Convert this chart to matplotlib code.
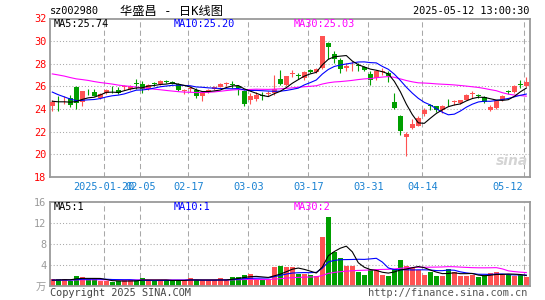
import numpy as np
import pandas as pd
import matplotlib
matplotlib.use('Agg')
import matplotlib.pyplot as plt
from matplotlib.transforms import blended_transform_factory

plt.rcParams['font.family'] = ['DejaVu Sans Mono', 'Noto Sans CJK SC']

# daily candles 2025-01-07 .. 2025-05-12 (sz002980)
opens = [24.24, 24.90, 24.85, 24.95, 25.90, 24.60, 25.58, 25.53, 24.97, 25.41,
         25.68, 25.65, 25.92, 25.76, 26.22, 26.24, 25.76, 26.26, 26.24, 26.50,
         26.41, 26.24, 25.60, 25.74, 25.70, 25.12, 25.47, 25.76, 25.94, 26.18,
         26.18, 26.00, 25.56, 24.76, 24.88, 25.22, 25.32, 25.41, 26.65, 26.15,
         27.08, 27.00, 26.70, 27.44, 27.24, 27.62, 29.79, 28.88, 28.35, 27.62,
         27.94, 27.85, 27.68, 27.12, 26.74, 27.28, 27.18, 24.59, 23.41, 21.53,
         22.32, 22.53, 23.59, 24.32, 24.24, 23.88, 24.62, 24.60, 24.53, 24.82,
         25.30, 25.20, 25.06, 23.90, 24.09, 24.76, 25.52, 25.47, 26.18, 26.06]
highs = [24.76, 25.10, 25.10, 25.20, 26.05, 25.60, 25.80, 25.76, 25.40, 25.80,
         26.00, 25.95, 26.10, 26.10, 26.65, 26.44, 26.20, 26.40, 26.59, 26.56,
         26.47, 26.30, 25.76, 26.00, 25.85, 25.50, 25.80, 26.00, 26.25, 26.35,
         26.44, 26.15, 25.70, 25.41, 25.47, 25.47, 25.56, 27.03, 27.47, 26.90,
         27.47, 27.18, 27.35, 27.50, 27.65, 30.45, 29.88, 29.10, 28.50, 28.06,
         28.20, 28.06, 27.80, 27.32, 27.44, 27.60, 27.32, 25.41, 23.50, 22.00,
         23.10, 23.41, 24.09, 24.47, 24.30, 24.38, 24.88, 24.76, 24.82, 25.30,
         25.56, 25.35, 25.12, 24.38, 24.76, 25.26, 25.70, 26.10, 26.59, 26.82]
lows = [23.85, 23.80, 24.40, 24.18, 23.95, 24.30, 25.26, 25.12, 24.90, 25.35,
        25.40, 25.35, 25.70, 25.70, 25.76, 25.41, 25.70, 26.00, 26.15, 26.30,
        26.20, 25.56, 25.35, 25.47, 24.97, 24.68, 25.40, 25.70, 25.90, 26.05,
        25.85, 25.26, 24.30, 24.47, 24.68, 24.76, 25.10, 25.26, 26.15, 26.00,
        26.80, 26.65, 26.60, 27.18, 27.18, 27.50, 28.41, 28.06, 27.18, 27.32,
        27.32, 27.32, 27.35, 26.15, 26.60, 27.03, 26.35, 24.00, 21.65, 19.82,
        22.24, 22.47, 23.41, 23.94, 23.70, 23.65, 24.24, 24.38, 24.47, 24.76,
        24.97, 24.97, 24.50, 23.79, 24.03, 24.70, 25.35, 25.40, 25.85, 25.94]
closes = [24.59, 24.85, 24.90, 24.35, 24.55, 25.56, 25.54, 25.18, 25.35, 25.70,
          25.64, 25.41, 25.96, 26.06, 26.18, 25.76, 26.15, 26.22, 26.50, 26.35,
          26.24, 25.65, 25.65, 25.78, 25.12, 25.47, 25.65, 25.94, 26.18, 26.22,
          26.15, 25.85, 24.47, 25.18, 25.26, 25.18, 25.35, 25.76, 26.24, 26.88,
          27.12, 26.95, 27.30, 27.24, 27.56, 30.41, 29.44, 28.41, 27.53, 27.82,
          27.97, 27.82, 27.41, 26.59, 27.32, 27.32, 26.88, 24.09, 22.03, 21.82,
          22.68, 23.20, 23.88, 24.28, 23.94, 24.29, 24.58, 24.64, 24.76, 25.26,
          25.34, 25.16, 24.59, 24.15, 24.68, 25.18, 25.48, 26.06, 26.14, 26.35]
volume = [1.2, 1.2, 1.2, 0.95, 1.9, 1.7, 1.2, 1.2, 0.9, 0.9,
          0.63, 0.95, 1.0, 1.0, 1.0, 1.46, 1.0, 1.0, 1.0, 1.0,
          1.0, 1.0, 1.0, 1.46, 1.0, 1.0, 1.0, 1.0, 1.46, 1.0,
          1.7, 1.7, 2.0, 2.2, 1.27, 1.2, 1.2, 3.55, 3.75, 3.6,
          3.6, 2.3, 2.3, 2.05, 1.85, 9.2, 13.1, 6.35, 5.2, 3.8,
          3.8, 2.7, 2.06, 3.0, 3.0, 2.06, 1.87, 3.15, 4.95, 3.8,
          3.35, 3.0, 2.06, 2.7, 1.87, 1.87, 3.15, 2.7, 1.87, 1.87,
          2.06, 1.6, 2.06, 2.4, 2.6, 2.06, 2.06, 1.87, 2.06, 1.6]

# closes / volumes before the window, only used to start the moving averages
hist_close = [27.6, 27.9, 28.3, 28.0, 27.5, 27.8, 28.2, 27.9, 27.6, 27.8,
              28.1, 27.9, 27.6, 27.9, 27.8, 27.7, 28.3, 28.0, 28.2, 27.9,
              27.2, 26.8, 26.3, 25.9, 25.3, 25.1, 24.9, 24.5, 24.3]
hist_vol = [1.3, 1.0, 1.2, 0.9, 1.1, 1.4, 1.0, 0.9, 1.2, 1.1,
            1.0, 1.3, 0.9, 1.1, 1.0, 1.2, 1.1, 0.9, 1.0, 1.3,
            1.1, 1.0, 0.9, 1.2, 1.0, 1.1, 0.9, 1.0, 1.1]

tick_idx = [9, 15, 23, 33, 43, 53, 62, 79]
tick_labels = ['2025-01-20', '02-05', '02-17', '03-03', '03-17', '03-31', '04-14', '05-12']

RED = '#ff5252'
GREEN = '#009f00'
GRID = '#a8a8a8'
BLUE_TXT = '#1a82d2'

n = len(closes)
x = np.arange(n)
o = np.array(opens)
c = np.array(closes)
up = c >= o
colors = np.where(up, RED, GREEN)

def ma(hist, vals, k):
    s = pd.Series(hist + vals).rolling(k).mean().values
    return s[-len(vals):]

W, H = 545, 300
fig = plt.figure(figsize=(W / 100, H / 100), dpi=100)
fig.patch.set_facecolor('white')

def px_axes(l, t, r, b):
    return fig.add_axes([l / W, 1 - b / H, (r - l) / W, (b - t) / H])

ax = px_axes(50.3, 18.5, 529.5, 176.7)
axv = px_axes(50.3, 201.7, 529.5, 285.7)

grid_x = np.array(tick_idx) - 0.35
for a in (ax, axv):
    a.set_xlim(-0.33, 79.53)
    for s in a.spines.values():
        s.set_color('#9a9a9a')
        s.set_linewidth(1.3)
    a.tick_params(axis='x', length=0, labelbottom=False)
    a.tick_params(axis='y', length=0, pad=3, labelsize=7.4)
    for gx in grid_x:
        a.axvline(gx, color=GRID, lw=0.75, ls=(0, (5, 3)), zorder=0)

# price panel
ax.set_ylim(18, 32)
ax.set_yticks(range(18, 33, 2))
ax.tick_params(axis='y', labelcolor='#ff0000')
for lv in range(20, 31, 2):
    ax.axhline(lv, color=GRID, lw=0.75, ls=(0, (1, 2)), zorder=0)

ax.vlines(x, lows, highs, colors=colors, lw=0.8, zorder=2)
body_h = np.maximum(np.abs(c - o), 0.07)
ax.bar(x, body_h, bottom=np.minimum(o, c), width=0.75, color=colors,
       linewidth=0, zorder=3)

ax.plot(x, ma(hist_close, closes, 30), color='#ff00ff', lw=0.8, zorder=4)
ax.plot(x, ma(hist_close, closes, 10), color='#0000ff', lw=0.8, zorder=4)
ax.plot(x, ma(hist_close, closes, 5), color='black', lw=0.8, zorder=4)

tr = blended_transform_factory(ax.transData, ax.transAxes)
for i, (p, lab) in enumerate(zip(grid_x, tick_labels)):
    ha = 'right' if i == len(tick_labels) - 1 else 'center'
    xp = p - 0.2 if ha == 'right' else p
    ax.text(xp, -0.065, lab, transform=tr, ha=ha, va='center',
            fontsize=7.4, color=BLUE_TXT)

ax.text(0.963, 0.1, 'sina', transform=ax.transAxes, ha='center', va='center',
        fontsize=10, fontweight='bold', style='italic', color='#d4d4d4',
        family='DejaVu Sans', zorder=1)

# volume panel
axv.set_ylim(0, 16)
axv.set_yticks([0, 4, 8, 12, 16])
axv.set_yticklabels(['万', '4', '8', '12', '16'])
axv.tick_params(axis='y', labelcolor='#9a9a9a')
for lv in (4, 8, 12):
    axv.axhline(lv, color=GRID, lw=0.75, ls=(0, (1, 2)), zorder=0)
axv.bar(x, volume, width=0.83, color=colors, linewidth=0, zorder=2)
axv.plot(x, ma(hist_vol, volume, 30), color='#ff00ff', lw=0.8, zorder=4)
axv.plot(x, ma(hist_vol, volume, 10), color='#0000ff', lw=0.8, zorder=4)
axv.plot(x, ma(hist_vol, volume, 5), color='black', lw=0.8, zorder=4)

# texts
def ftext(px, py, s, **kw):
    kw.setdefault('fontsize', 7.4)
    kw.setdefault('va', 'center')
    fig.text(px / W, 1 - py / H, s, **kw)

ftext(50, 11, 'sz002980')
ftext(120, 11, '华盛昌 - 日K线图', fontsize=8.8)
ftext(529, 11, '2025-05-12 13:00:30', ha='right')
ftext(54, 24, 'MA5:25.74', color='black')
ftext(174, 24, 'MA10:25.20', color='#0000ff')
ftext(294, 24, 'MA30:25.03', color='#ff00ff')
ftext(54, 207, 'MA5:1', color='black')
ftext(174, 207, 'MA10:1', color='#0000ff')
ftext(294, 207, 'MA30:2', color='#ff00ff')
ftext(50, 293, 'Copyright 2025 SINA.COM', color='#444444')
ftext(527, 293, 'http://finance.sina.com.cn', ha='right', color='#555555')

fig.savefig('out.png', dpi=100, facecolor='white')
